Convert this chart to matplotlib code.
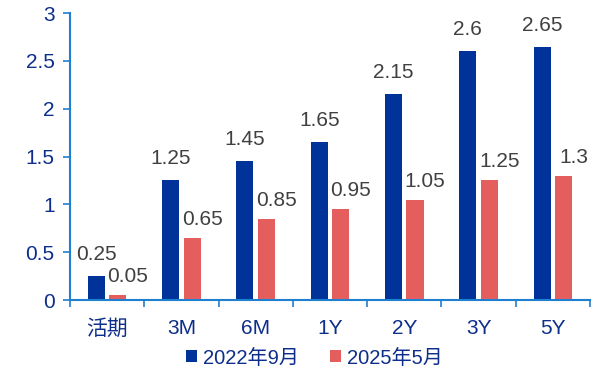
import matplotlib
matplotlib.use("Agg")
import matplotlib.pyplot as plt
import numpy as np

categories = ["活期", "3M", "6M", "1Y", "2Y", "3Y", "5Y"]
series_names = ["2022年9月", "2025年5月"]
rates_2022_09 = [0.25, 1.25, 1.45, 1.65, 2.15, 2.6, 2.65]
rates_2025_05 = [0.05, 0.65, 0.85, 0.95, 1.05, 1.25, 1.3]
y_ticks = [0, 0.5, 1, 1.5, 2, 2.5, 3]
y_tick_labels = ["0", "0.5", "1", "1.5", "2", "2.5", "3"]

plt.rcParams['font.family'] = ['Liberation Sans', 'Noto Sans CJK SC', 'DejaVu Sans']

BLUE = "#003399"
PINK = "#e55e5e"
AXIS = "#1f7fd0"
TICKTXT = "#0d2e8a"
LABEL = "#404040"

fig = plt.figure(figsize=(6.02, 3.72), dpi=100)
ax = fig.add_axes([0.1163, 0.1935, 0.8637, 0.7715])

x = np.arange(len(categories))
w = 0.23
off = 0.145
ax.bar(x - off, rates_2022_09, w, color=BLUE, label=series_names[0])
ax.bar(x + off, rates_2025_05, w, color=PINK, label=series_names[1])

for xi, v in zip(x, rates_2022_09):
    ax.annotate(f"{v:g}", (xi - off, v), xytext=(0, 12), textcoords='offset pixels',
                ha='center', va='bottom', fontsize=15, color=LABEL)
for xi, v in zip(x, rates_2025_05):
    ax.annotate(f"{v:g}", (xi + off, v), xytext=(10, 9), textcoords='offset pixels',
                ha='center', va='bottom', fontsize=15, color=LABEL)

ax.set_xlim(-0.5, len(categories) - 0.5)
ax.set_ylim(0, 3)
ax.set_yticks(y_ticks)
ax.set_yticklabels(y_tick_labels)
ax.set_xticks(x)
ax.set_xticklabels(categories)
ax.set_xticks(np.arange(len(categories) + 1) - 0.5, minor=True)
ax.tick_params(axis='x', which='major', length=0, pad=14, labelsize=15, labelcolor=TICKTXT)
ax.tick_params(axis='x', which='minor', length=5, color=AXIS, width=1.2, direction='out')
ax.tick_params(axis='y', length=5, color=AXIS, width=1.2, labelsize=15, labelcolor=TICKTXT, pad=6)

for s in ['top', 'right']:
    ax.spines[s].set_visible(False)
for s in ['left', 'bottom']:
    ax.spines[s].set_color(AXIS)
    ax.spines[s].set_linewidth(1.5)

ax.legend(loc='upper center', bbox_to_anchor=(0.47, -0.12), ncol=2, frameon=False,
          fontsize=14.5, handlelength=0.55, handleheight=0.55, handletextpad=0.3,
          columnspacing=1.5, labelcolor=TICKTXT, borderpad=0.2)

fig.savefig("out.png", dpi=100)
